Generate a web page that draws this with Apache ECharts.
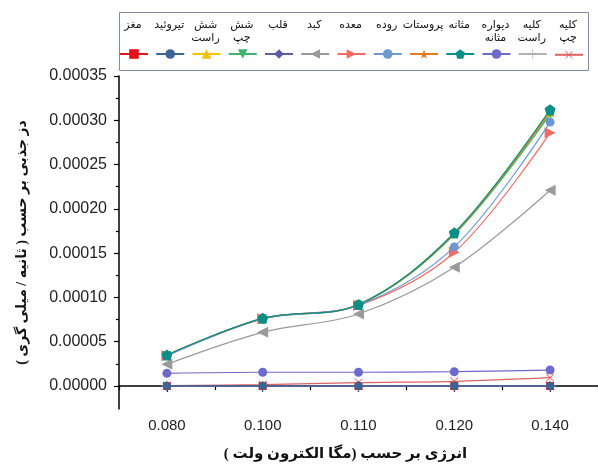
<!DOCTYPE html>
<html>
<head>
<meta charset="utf-8">
<script src="https://cdn.jsdelivr.net/npm/echarts@6/dist/echarts.min.js"></script>
<style>
html,body{margin:0;padding:0;background:#fff;}
#chart{width:598px;height:468px;}
</style>
</head>
<body>
<div id="chart"></div>
<script>
// ---- data ----
const categories = ['0.080', '0.100', '0.110', '0.120', '0.140'];
const yTickValues = [0, 0.00005, 0.0001, 0.00015, 0.0002, 0.00025, 0.0003, 0.00035];
const yTickLabels = ['0.00000', '0.00005', '0.00010', '0.00015', '0.00020', '0.00025', '0.00030', '0.00035'];

const brain       = [0, 0, 0, 0, 0];                                        // مغز
const thyroid     = [0, 0, 0, 0, 0];                                        // تیروئید
const lungRight   = [0.0000350, 0.0000762, 0.0000920, 0.000172, 0.000309];  // شش راست
const lungLeft    = [0.0000345, 0.0000760, 0.0000915, 0.000171, 0.000307];  // شش چپ
const heart       = [0, 0, 0, 0, 0];                                        // قلب
const liver       = [0.0000245, 0.0000606, 0.0000813, 0.000134, 0.000221];  // کبد
const stomach     = [0.0000340, 0.0000758, 0.0000910, 0.000151, 0.000286];  // معده
const intestine   = [0.0000342, 0.0000760, 0.0000912, 0.000157, 0.000298];  // روده
const prostate    = [0.0000348, 0.0000763, 0.0000918, 0.000172, 0.000310];  // پروستات
const bladder     = [0.0000350, 0.0000764, 0.0000920, 0.000173, 0.000312];  // مثانه
const bladderWall = [0.0000143, 0.0000155, 0.0000155, 0.0000161, 0.0000180];// دیواره مثانه
const kidneyRight = [0, 0, 0, 0, 0];                                        // کلیه راست
const kidneyLeft  = [0.0000005, 0.0000015, 0.0000037, 0.0000053, 0.0000094];// کلیه چپ

const seriesNames = ['مغز', 'تیروئید', 'شش راست', 'شش چپ', 'قلب', 'کبد', 'معده', 'روده', 'پروستات', 'مثانه', 'دیواره مثانه', 'کلیه راست', 'کلیه چپ'];
const legendLabels = ['مغز', 'تیروئید', 'شش\nراست', 'شش\nچپ', 'قلب', 'کبد', 'معده', 'روده', 'پروستات', 'مثانه', 'دیواره\nمثانه', 'کلیه\nراست', 'کلیه\nچپ'];
const seriesValues = [brain, thyroid, lungRight, lungLeft, heart, liver, stomach, intestine, prostate, bladder, bladderWall, kidneyRight, kidneyLeft];

const xTitle = 'انرژی بر حسب (مگا الکترون ولت )';
const yTitle = 'دز جذبی بر حسب ( ثانیه / میلی گری )';

// ---- styles ----
const STAR = 'path://M50,0 L61,35 L98,35 L68,57 L79,91 L50,70 L21,91 L32,57 L2,35 L39,35 Z';
const PENT = 'path://M50,0 L98,36 L80,95 L20,95 L2,36 Z';
const PLUS = 'path://M46,0 H54 V46 H100 V54 H54 V100 H46 V54 H0 V46 H46 Z';
const styles = [
  {color: '#e3121b', symbol: 'rect', size: 8, rot: 0, z: 2},
  {color: '#3a6594', symbol: 'circle', size: 8, rot: 0, z: 9},
  {color: '#f2c200', symbol: 'triangle', size: 9, rot: 0, z: 3},
  {color: '#3db36b', symbol: 'triangle', size: 9, rot: 180, z: 3},
  {color: '#5a5ca6', symbol: 'diamond', size: 10, rot: 0, z: 8},
  {color: '#9a9a9a', symbol: 'triangle', size: 11, rot: 90, z: 4},
  {color: '#f26b63', symbol: 'triangle', size: 11, rot: -90, z: 5},
  {color: '#6b98d2', symbol: 'circle', size: 9, rot: 0, z: 6},
  {color: '#e37a1e', symbol: STAR, size: 10, rot: 0, z: 3},
  {color: '#0a8f86', symbol: PENT, size: 11, rot: 0, z: 7},
  {color: '#6d6acb', symbol: 'circle', size: 9, rot: 0, z: 6},
  {color: '#b0b0b0', symbol: PLUS, size: 11, rot: 0, z: 2},
  {color: '#e06060', symbol: PLUS, size: 11, rot: 45, z: 7}
];

const chart = echarts.init(document.getElementById('chart'), null, {renderer: 'canvas'});

const series = seriesNames.map((name, i) => ({
  name: name,
  type: 'line',
  smooth: 0.35,
  data: seriesValues[i],
  symbol: styles[i].symbol,
  symbolSize: styles[i].size,
  symbolRotate: styles[i].rot,
  z: styles[i].z,
  itemStyle: {color: styles[i].color},
  lineStyle: {color: styles[i].color, width: 1.2},
  emphasis: {disabled: true},
  animation: false
}));

// legend: one icon per legend component, text drawn as graphic above each icon
const legendX0 = 133, legendStep = 36.25, legendIconW = 28;
const legends = seriesNames.map((name, i) => ({
  data: [name],
  left: legendX0 + i * legendStep - legendIconW / 2,
  top: 48,
  padding: 0,
  itemWidth: legendIconW,
  itemHeight: 12,
  itemGap: 0,
  formatter: () => '',
  textStyle: {fontSize: 1},
  selectedMode: false
}));

const graphics = [{
  type: 'rect',
  shape: {x: 119.5, y: 12.5, width: 469, height: 58},
  style: {fill: 'none', stroke: '#7f8ea3', lineWidth: 1},
  z: -1
}].concat(legendLabels.map((t, i) => ({
  type: 'text',
  x: legendX0 + i * legendStep,
  y: 19,
  style: {
    text: t,
    textAlign: 'center',
    textVerticalAlign: 'top',
    font: '11px "DejaVu Sans", sans-serif',
    lineHeight: 13,
    fill: '#111'
  }
})));

chart.setOption({
  animation: false,
  backgroundColor: '#fff',
  grid: {left: 119, right: 0, top: 76, bottom: 59, containLabel: false},
  legend: legends,
  graphic: graphics,
  xAxis: [{
    type: 'category',
    data: categories,
    boundaryGap: true,
    name: xTitle,
    nameLocation: 'middle',
    nameGap: 38,
    nameTextStyle: {fontFamily: '"Liberation Serif", "DejaVu Sans", serif', fontSize: 15, fontWeight: 'bold', color: '#111', padding: [0, 26, 0, 0]},
    axisLine: {lineStyle: {color: '#000', width: 1.5}},
    axisTick: {show: true, alignWithLabel: true, length: 6, inside: false, lineStyle: {color: '#000', width: 1.2}},
    axisLabel: {fontFamily: 'Liberation Sans, Arial, sans-serif', fontSize: 15, color: '#222', margin: 9},
    splitLine: {show: false}
  }, {
    type: 'category',
    data: categories,
    boundaryGap: true,
    position: 'bottom',
    axisLine: {show: false},
    axisTick: {show: true, alignWithLabel: false, length: 4, lineStyle: {color: '#000', width: 1.2}},
    axisLabel: {show: false},
    splitLine: {show: false}
  }],
  yAxis: [{
    type: 'value',
    min: -0.000026,
    max: 0.00035,
    name: yTitle,
    nameLocation: 'middle',
    nameGap: 90,
    nameRotate: 90,
    nameTextStyle: {fontFamily: '"Liberation Serif", "DejaVu Sans", serif', fontSize: 14, fontWeight: 'bold', color: '#111'},
    axisLine: {show: true, lineStyle: {color: '#000', width: 1.5}},
    axisTick: {show: true, length: 5, customValues: yTickValues, lineStyle: {color: '#000', width: 1.2}},
    axisLabel: {
      fontFamily: 'Liberation Sans, Arial, sans-serif', fontSize: 16, color: '#222', margin: 12,
      customValues: yTickValues,
      formatter: (v) => {
        const k = yTickValues.findIndex(t => Math.abs(t - v) < 1e-9);
        return k >= 0 ? yTickLabels[k] : '';
      }
    },
    splitLine: {show: false}
  }, {
    type: 'value',
    min: -0.000026,
    max: 0.00035,
    position: 'left',
    axisLine: {show: false},
    axisTick: {show: true, length: 3, customValues: yTickValues.slice(0, -1).map((v, i) => (v + yTickValues[i + 1]) / 2), lineStyle: {color: '#000', width: 1.2}},
    axisLabel: {show: false},
    splitLine: {show: false}
  }],
  series: series
});
</script>
</body>
</html>
